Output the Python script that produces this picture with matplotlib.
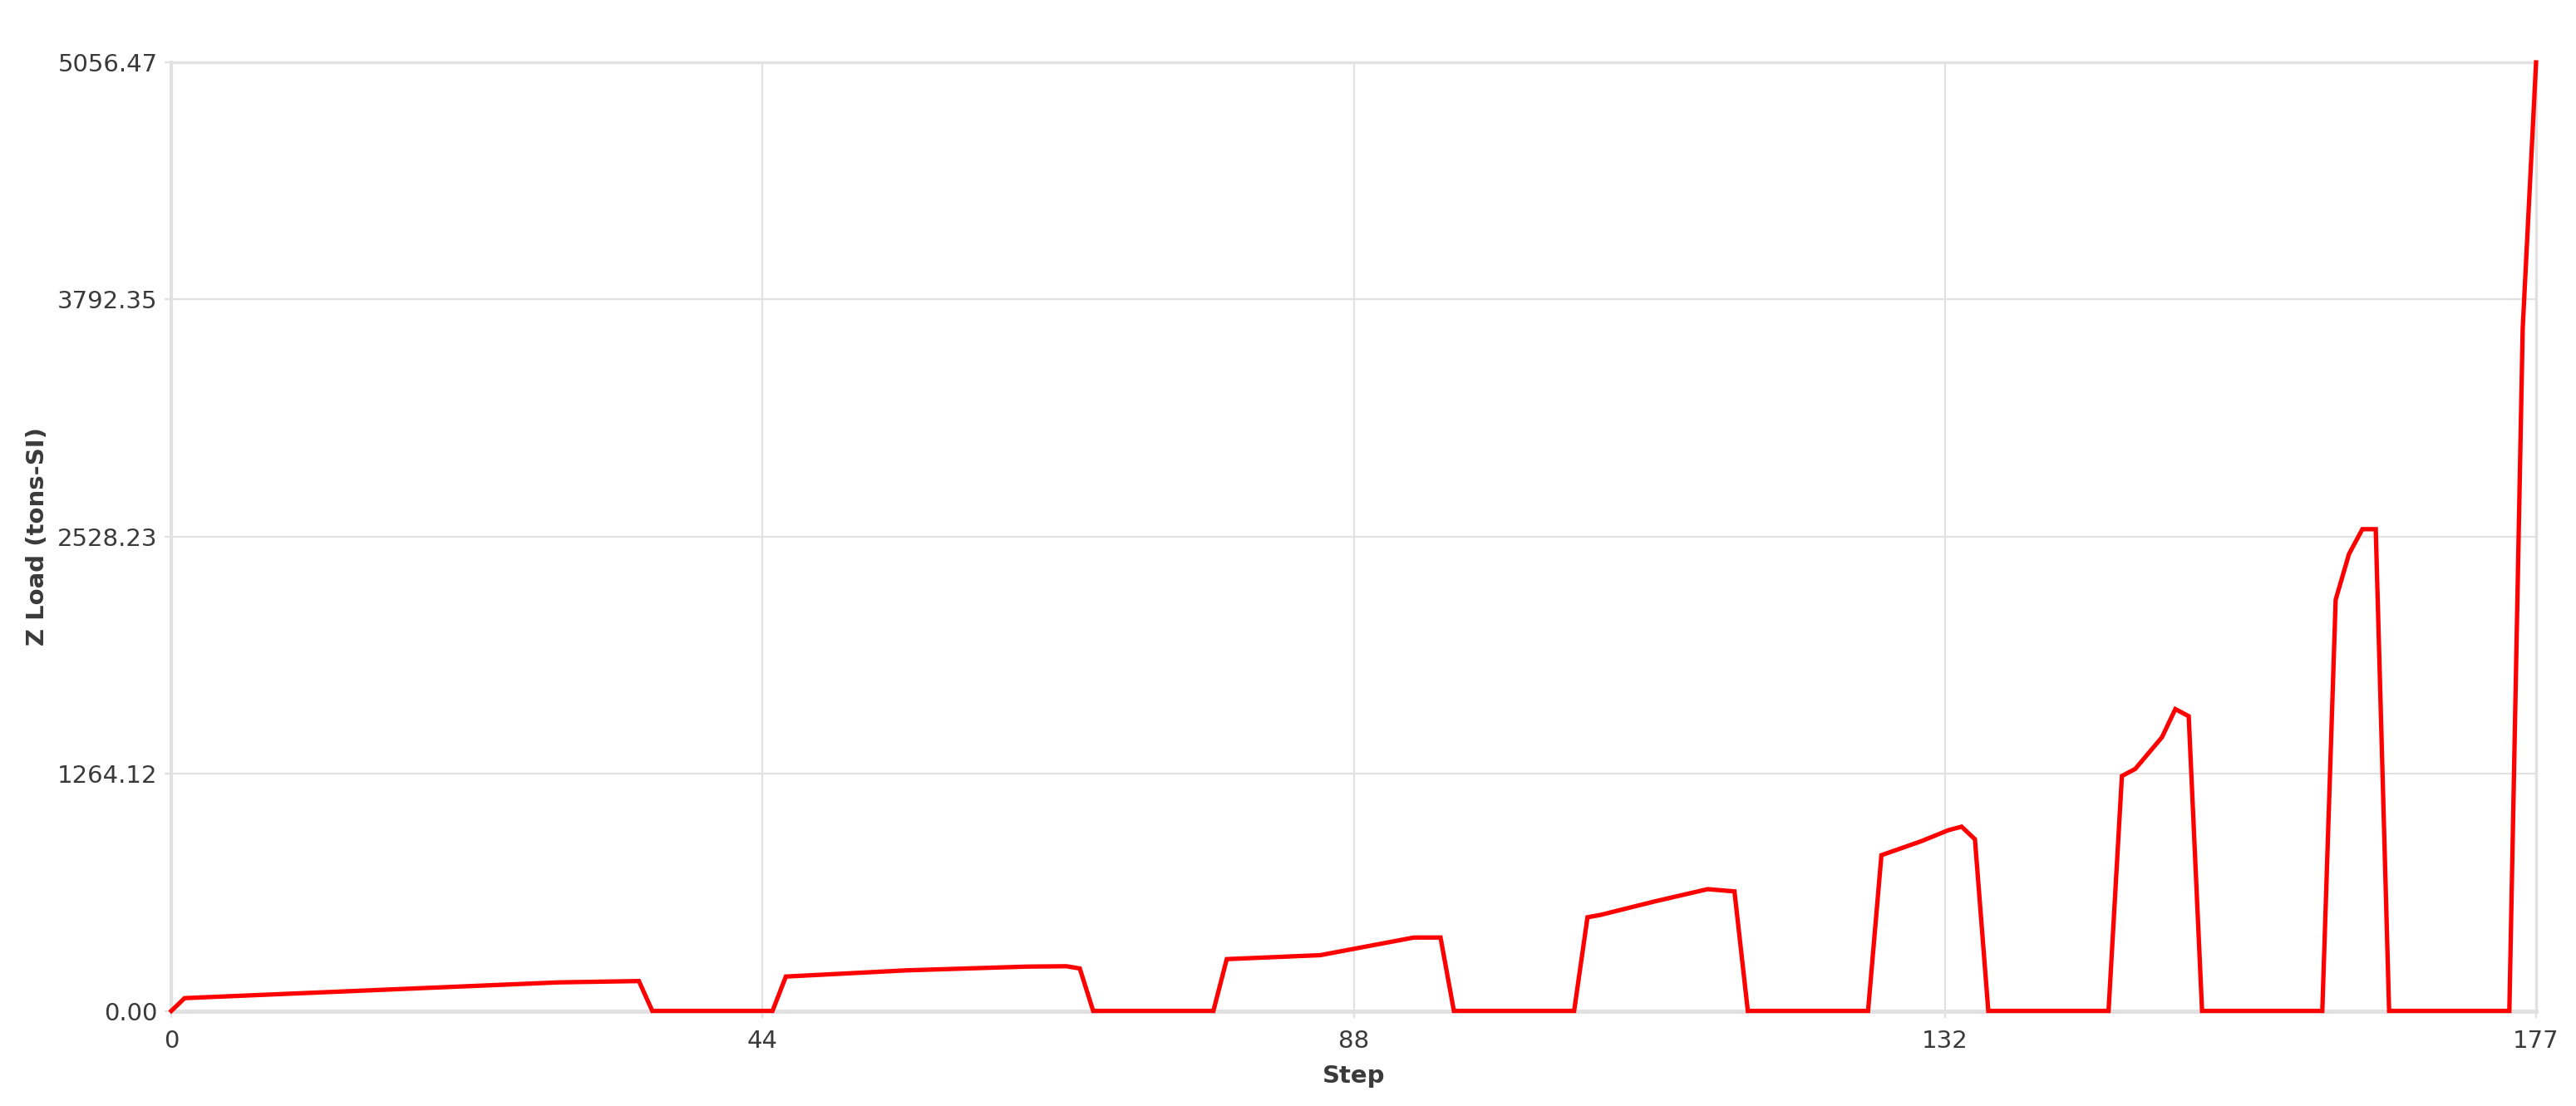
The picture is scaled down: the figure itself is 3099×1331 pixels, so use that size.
import matplotlib
matplotlib.use("Agg")
import matplotlib.pyplot as plt
import numpy as np

### data (vertices of the polyline) ###
steps = [0, 1, 29, 35, 36, 45, 46, 55, 64, 67, 68, 69,
         78, 79, 86, 93, 95, 96, 105, 106, 107, 111, 115, 117, 118,
         127, 128, 131, 133, 134, 135, 136, 145, 146, 147, 149, 150, 151, 152,
         161, 162, 163, 164, 165, 166, 175, 176, 177]
z_load = [0, 68, 152, 159, 0, 0, 183, 216, 236, 238, 226, 0,
          0, 276, 297, 391, 391, 0, 0, 499, 512, 583, 649, 637, 0,
          0, 830, 905, 963, 982, 915, 0, 0, 1252, 1290, 1459, 1609, 1571, 0,
          0, 2192, 2436, 2568, 2568, 0, 0, 3639, 5056.47]

x_max = 177
y_max = 5056.47
x_tick_labels = ["0", "44", "88", "132", "177"]
y_tick_labels = ["0.00", "1264.12", "2528.23", "3792.35", "5056.47"]

grid_col = "#e1e1e1"
text_col = "#3a3a3a"

fig = plt.figure(figsize=(15.495, 6.655), dpi=200)
ax = fig.add_axes([0.0665, 0.086, 0.918, 0.8576])

ax.plot(steps, z_load, color="#ff0000", lw=1.9, clip_on=False, zorder=3,
        solid_joinstyle="miter")

ax.set_xlim(0, x_max)
ax.set_ylim(0, y_max)

# ticks sit at quarters of the range, labels are truncated like the original
ax.set_xticks(np.linspace(0, x_max, 5))
ax.set_xticklabels(x_tick_labels)
ax.set_yticks(np.linspace(0, y_max, 5))
ax.set_yticklabels(y_tick_labels)

ax.grid(True, color=grid_col, lw=0.8, zorder=0)
for s in ax.spines.values():
    s.set_color(grid_col)
    s.set_linewidth(1.2)
ax.spines["bottom"].set_linewidth(1.8)
ax.spines["left"].set_linewidth(1.5)

ax.tick_params(axis="both", colors=grid_col, labelcolor=text_col,
               labelsize=10.5, length=3, width=0.8)
ax.tick_params(axis="y", pad=3)
ax.tick_params(axis="x", pad=5)

ax.set_xlabel("Step", fontsize=10.5, fontweight="bold", color=text_col, labelpad=5)
ax.set_ylabel("Z Load (tons-SI)", fontsize=10.5, fontweight="bold", color=text_col, labelpad=3.5)

fig.savefig("out.png", dpi=200, facecolor="white")
